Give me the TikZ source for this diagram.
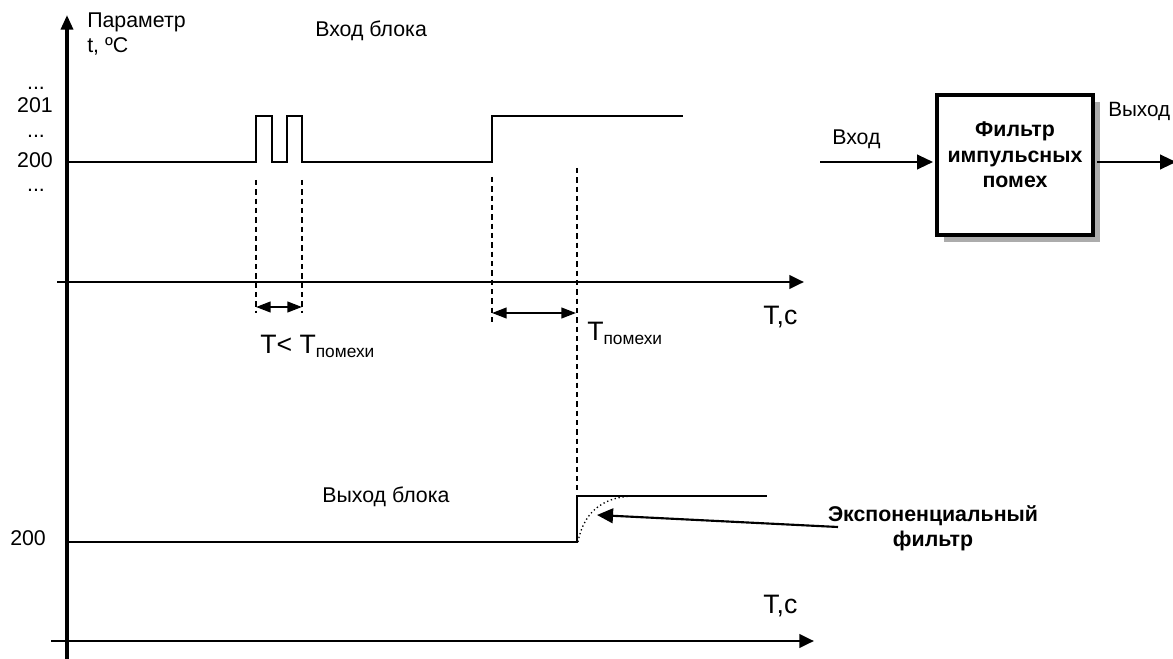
\documentclass[tikz,border=0pt]{standalone}
\usepackage{fontspec}
\setmainfont{Liberation Sans}
\usetikzlibrary{arrows.meta,shadows}
\newcommand{\subpom}[1]{{\fontsize{13}{14}\selectfont\raisebox{#1}{помехи}}}
\begin{document}
\begin{tikzpicture}[x=0.75pt,y=-0.75pt,
  lbl/.style={inner sep=0pt, font=\fontsize{16}{18}\selectfont},
  big/.style={inner sep=0pt, font=\fontsize{20}{22}\selectfont},
  boldtxt/.style={inner sep=0pt, font=\fontsize{16}{19}\selectfont\bfseries, align=center},
  vaxis/.style={line width=2.6pt, -{Triangle[length=11pt,width=9pt]}},
  haxis/.style={line width=2.2pt, -{Triangle[length=11pt,width=10pt]}},
  sig/.style={line width=1.5pt, line join=miter},
  guide/.style={line width=0.8pt, dash pattern=on 4pt off 3pt},
  dim/.style={line width=1.6pt, {Triangle[length=11pt,width=8pt]}-{Triangle[length=11pt,width=8pt]}},
  conn/.style={line width=1.6pt, -{Triangle[length=12pt,width=11pt]}},
  blockbox/.style={draw, line width=3pt, fill=white, minimum width=117pt, minimum height=105pt,
    drop shadow={shadow xshift=5pt, shadow yshift=-5pt, fill=gray!65, opacity=1}}
]
\useasboundingbox (0,0) rectangle (1173,659);

% axes
\coordinate (ybot) at (67,665);
\coordinate (ytop) at (67,15);
\coordinate (x1s) at (57,282);
\coordinate (x1e) at (804,282);
\coordinate (x2s) at (51,641);
\coordinate (x2e) at (814,641);
\draw[haxis] (x1s) -- (x1e);
\draw[haxis] (x2s) -- (x2e);
\draw[vaxis] (ybot) -- (ytop);

% axis labels
\node[lbl, anchor=base west] (par) at (87,28) {Параметр};
\node[lbl, anchor=base west] (tcel) at (87,53) {t, ºC};
\node[lbl, anchor=base] (d1) at (36,90) {...};
\node[lbl, anchor=base] (v201) at (35,113) {201};
\node[lbl, anchor=base] (d2) at (36,138) {...};
\node[lbl, anchor=base] (v200) at (35,168) {200};
\node[lbl, anchor=base] (d3) at (36,192) {...};
\node[lbl, anchor=base west] (v200b) at (10,545) {200};
\node[big, anchor=base west] (tc1) at (763,324) {T,c};
\node[big, anchor=base west] (tc2) at (763,613) {T,c};

% titles
\node[lbl, anchor=base west] (inb) at (315,37) {Вход блока};
\node[lbl, anchor=base west] (outb) at (322,502) {Выход блока};

% upper signal
\draw[sig] (67,162) -- (256,162) -- (256,116) -- (272,116) -- (272,162)
  -- (287,162) -- (287,116) -- (302,116) -- (302,162) -- (492,162)
  -- (492,116) -- (683,116);

% guides
\draw[guide] (256,180) -- (256,313);
\draw[guide] (302,180) -- (302,313);
\draw[guide] (492,177) -- (492,322);
\draw[guide] (577,168) -- (577,490);

% dimension arrows
\coordinate (a1) at (256,307);
\coordinate (a2) at (302,307);
\coordinate (b1) at (492,313);
\coordinate (b2) at (576,313);
\draw[dim] (a1) -- (a2);
\draw[dim] (b1) -- (b2);
\node[big, anchor=base west] (tlt) at (260,353) {T< T\subpom{-3.7pt}};
\node[big, anchor=base west] (tpom) at (587,340) {T\subpom{-3pt}};

% lower signal
\draw[sig] (67,542) -- (577,542) -- (577,496) -- (767,496);
\draw[line width=1pt, dotted] (578,542) .. controls (583,515) and (600,497) .. (633,496);

% exponential filter label
\node[boldtxt] (expt) at (933,528) {Экспоненциальный\\фильтр};
\coordinate (es) at (838,527);
\coordinate (et) at (597,515);
\draw[conn] (es) -- (et);

% block
\node[blockbox] (box) at (1015,165) {};
\node[boldtxt] (boxt) at (1015,155) {Фильтр\\импульсных\\помех};
\coordinate (in) at (820,162);
\coordinate (out) at (1176,162);
\draw[conn, shorten >=1.5pt] (in) -- (in -| box.west);
\draw[conn, shorten <=1.5pt] (box.east |- out) -- (out);
\node[lbl, anchor=base west] (inl) at (832,145) {Вход};
\node[lbl, anchor=base west, font=\fontsize{15.5}{18}\selectfont] (outl) at (1108,117) {Выход};
\end{tikzpicture}
\end{document}
